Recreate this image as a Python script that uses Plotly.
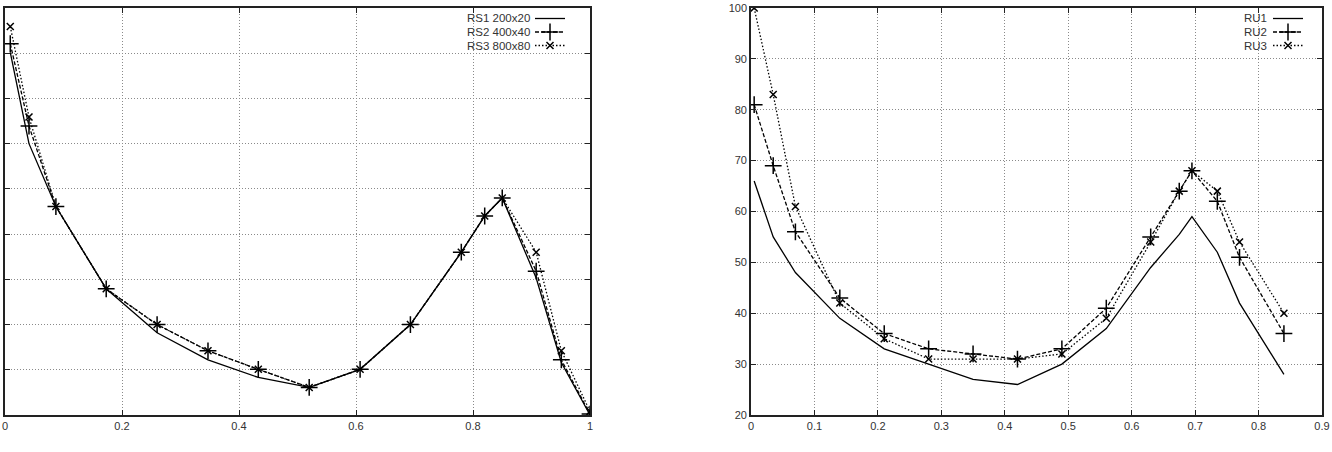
import plotly.graph_objects as go
from plotly.subplots import make_subplots

# ---- Left chart data (RS series) ----
rs_x = [0.009, 0.041, 0.087, 0.173, 0.26, 0.347, 0.433, 0.52, 0.607, 0.693, 0.78, 0.82, 0.85, 0.908, 0.951, 1.0]
rs1 = [90.2, 70.0, 56.1, 37.9, 28.2, 22.2, 18.3, 16.1, 20.1, 30.0, 46.0, 54.0, 58.0, 40.3, 21.6, 10.0]
rs2 = [92.1, 73.9, 56.1, 37.9, 30.0, 24.2, 20.1, 16.1, 20.1, 30.0, 46.0, 54.0, 58.0, 41.8, 22.2, 10.2]
rs3 = [95.9, 75.9, 56.1, 37.9, 30.0, 24.2, 20.1, 16.1, 20.1, 30.0, 46.0, 54.0, 58.0, 46.0, 24.2, 10.8]

# ---- Right chart data (RU series) ----
ru_x = [0.005, 0.035, 0.07, 0.14, 0.21, 0.28, 0.35, 0.42, 0.49, 0.56, 0.63, 0.675, 0.695, 0.735, 0.77, 0.84]
ru1 = [66, 55, 48, 39, 33, 30, 27, 26, 30, 37, 49, 55.5, 59, 52, 42, 28]
ru2 = [81, 69, 56, 43, 36, 33, 32, 31, 33, 41, 55, 64, 68, 62, 51, 36]
ru3 = [100, 83, 61, 42, 35, 31, 31, 31, 32, 39, 54, 64, 68, 64, 54, 40]

left_names = ["RS1 200x20", "RS2 400x40", "RS3 800x80"]
right_names = ["RU1", "RU2", "RU3"]

W, H = 1332, 452
fig = make_subplots(rows=1, cols=2)

styles = [
    dict(dash="solid", mode="lines", symbol=None),
    dict(dash="4px,2px", mode="lines+markers", symbol="cross-thin-open"),
    dict(dash="1.5px,2px", mode="lines+markers", symbol="x-thin-open"),
]

row_y = [18.5, 32, 45.5]  # legend row centres (px from top)
legend_defs = []  # (legend id, sample left px, row y px)
annotations = []


def add_series(x, ys, names, col, first_legend, sample_left, text_right):
    for i, (y, n, s) in enumerate(zip(ys, names, styles)):
        lid = "legend" if first_legend + i == 1 else f"legend{first_legend + i}"
        kw = dict(x=x, y=y, name="", mode=s["mode"], legend=lid, showlegend=True,
                  line=dict(color="black", width=1.3, dash=s["dash"]))
        if s["symbol"]:
            size = 12 if s["symbol"] == "cross-thin-open" else 7
            kw["marker"] = dict(symbol=s["symbol"], size=size, color="black",
                                line=dict(color="black", width=1.5))
        fig.add_trace(go.Scatter(**kw), row=1, col=col)
        legend_defs.append((lid, sample_left, row_y[i]))
        annotations.append(dict(text=n, x=text_right / W, y=1 - row_y[i] / H,
                                xref="paper", yref="paper", xanchor="right",
                                yanchor="middle", showarrow=False, borderpad=0,
                                font=dict(size=11.5, color="#333")))


add_series(rs_x, [rs1, rs2, rs3], left_names, 1, 1, 535, 531)
add_series(ru_x, [ru1, ru2, ru3], right_names, 2, 4, 1273, 1268)

ydom = [1 - 415 / H, 1 - 8 / H]
axis_common = dict(showline=True, linecolor="#222", linewidth=1.6, mirror="allticks",
                   ticks="inside", ticklen=5, tickcolor="#222",
                   showgrid=True, gridcolor="#8a8a8a", griddash="1px,2px", gridwidth=1,
                   zeroline=False, tickfont=dict(size=11, color="#333"),
                   automargin=False)

layout = dict(
    width=W, height=H, margin=dict(l=0, r=0, t=0, b=0),
    paper_bgcolor="white", plot_bgcolor="white",
    font=dict(family="Liberation Sans, Arial, sans-serif", size=11, color="#333"),
    xaxis=dict(domain=[5 / W, 590 / W], range=[0, 1], dtick=0.2, **axis_common),
    yaxis=dict(domain=ydom, range=[10, 100], dtick=10, showticklabels=False, **axis_common),
    xaxis2=dict(domain=[751 / W, 1322 / W], range=[0, 0.9], dtick=0.1, **axis_common),
    yaxis2=dict(domain=ydom, range=[20, 100], dtick=10, **axis_common),
    showlegend=True,
    annotations=annotations,
)
for lid, sx, ry in legend_defs:
    layout[lid] = dict(x=(sx - 5) / W, y=1 - ry / H, xanchor="left", yanchor="middle",
                       bgcolor="rgba(0,0,0,0)", borderwidth=0,
                       font=dict(size=11, color="#333"), itemwidth=30)

fig.update_layout(**layout)
fig.write_html("out.html")
